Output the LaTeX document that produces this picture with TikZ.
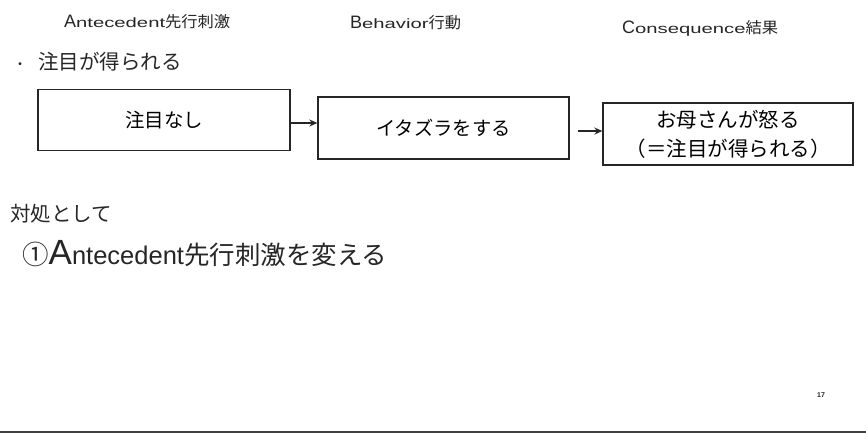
\documentclass[tikz,border=0pt]{standalone}
\usepackage{fontspec}
\setmainfont{Liberation Sans}
\newfontfamily\cjk{Noto Sans CJK JP}
\newfontfamily\hdrlat[FakeStretch=1.5]{Liberation Sans}
\newfontfamily\hdrcjk[FakeStretch=1.05]{Noto Sans CJK JP}
\usetikzlibrary{arrows.meta}
\begin{document}
\begin{tikzpicture}[x=1pt,y=-1pt,
  abox/.style={draw=black!85,line width=1.3pt,minimum height=62pt,inner sep=0pt},
  conn/.style={draw=black!85,line width=1.3pt,-{Stealth[length=8pt,width=7pt]}},
  hdr/.style={anchor=base west,inner sep=0pt,text=black!85},
  txt/.style={anchor=base west,inner sep=0pt,text=black!85}]
\useasboundingbox (0,0) rectangle (866,444);
% headers
\node[hdr] (h1) at (64,28) {\fontsize{18}{18}\selectfont A\fontsize{13.5}{13.5}\hdrlat ntecedent\fontsize{15.5}{15.5}\hdrcjk 先行刺激};
\node[hdr] (h2) at (350,29) {\fontsize{18}{18}\selectfont B\fontsize{13.5}{13.5}\hdrlat ehavior\fontsize{15.5}{15.5}\hdrcjk 行動};
\node[hdr] (h3) at (622,34) {\fontsize{18}{18}\selectfont C\fontsize{13.5}{13.5}\hdrlat onsequence\fontsize{15.5}{15.5}\hdrcjk 結果};
% bullet line
\node[txt] (bul) at (13,69) {\fontsize{14}{14}\selectfont\cjk ・};
\node[txt] (t1) at (38,70) {\fontsize{20.5}{20.5}\selectfont\cjk 注目が得られる};
% boxes
\node[abox,minimum width=252pt,minimum height=61pt] (b1) at (164,120) {\raisebox{-3pt}{\fontsize{19.5}{19.5}\selectfont\cjk 注目なし}};
\node[abox,minimum width=251pt] (b2) at (443.5,128) {\raisebox{-2pt}{\fontsize{19.3}{19.3}\selectfont\cjk イタズラをする}};
\node[abox,minimum width=250pt,align=center,font=\fontsize{20.5}{29}\selectfont\cjk] (b3) at (728,134) {お母さんが怒る\\（＝注目が得られる）};
% connectors
\draw[conn] (b1.east |- 0,123) -- (b2.west |- 0,123);
\path (b2.east |- 0,131) ++(8,0) coordinate (c2s);
\draw[conn] (c2s) -- (b3.west |- c2s);
% lower text
\node[txt] (t2) at (10,221) {\fontsize{20.5}{20.5}\selectfont\cjk 対処として};
\node[txt] (t3) at (22,264) {\fontsize{26.5}{26.5}\selectfont\cjk ①\fontsize{35}{35}\selectfont\rmfamily A\fontsize{25.5}{25.5}\selectfont ntecedent\cjk 先行刺激を変える};
% page number
\node[txt] (pn) at (817,397) {\fontsize{7}{7}\selectfont\bfseries 17};
% bottom rule
\draw[black!75,line width=2pt] (0,432) coordinate (r0) -- (866,432) coordinate (r1);
\end{tikzpicture}
\end{document}
